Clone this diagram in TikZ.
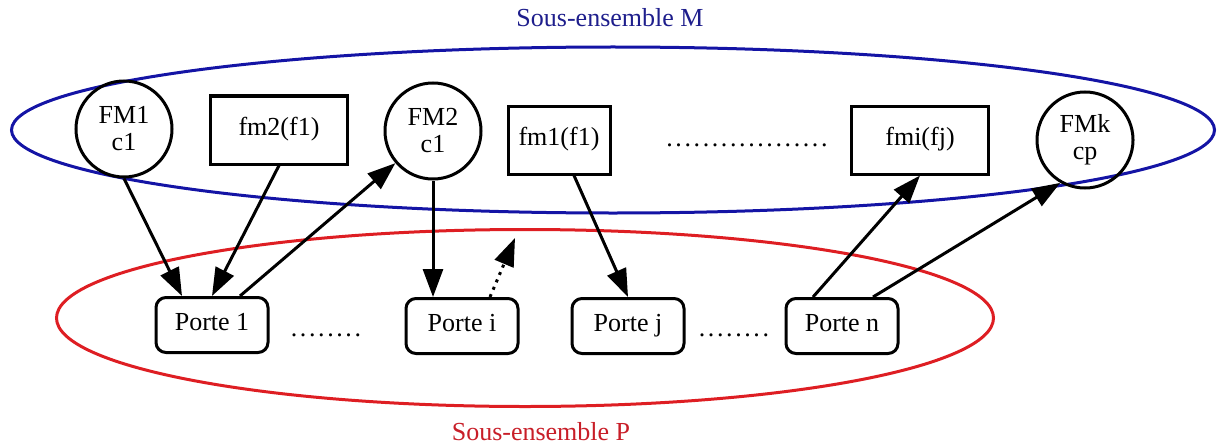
\documentclass[tikz,border=0pt]{standalone}
\usepackage{fontspec}
\setmainfont{Liberation Serif}
\newfontfamily\dotfont[LetterSpace=10]{Liberation Serif}
\usetikzlibrary{arrows.meta,shapes.geometric}
\definecolor{setblue}{RGB}{20,20,165}
\definecolor{setred}{RGB}{222,30,35}
\definecolor{labelblue}{RGB}{30,30,140}
\definecolor{labelred}{RGB}{200,30,40}

\begin{document}
\begin{tikzpicture}[
            x=0.5pt, y=-0.5pt,
            font=\fontsize{13}{13.5}\selectfont,
            every node/.style={line width=1.5pt},
            fmcircle/.style={draw, circle, minimum size=48pt, inner sep=0pt, align=center},
            fmbox/.style={draw, rectangle, minimum height=34pt, inner sep=0pt, text height=1.6ex, text depth=.4ex},
            portebox/.style={draw, rectangle, rounded corners=5pt, minimum width=56pt, minimum height=27.5pt, inner sep=0pt, text height=1.6ex, text depth=.4ex},
            link/.style={line width=1.5pt, -{Triangle[length=14pt,width=10pt]}},
            dotrow/.style={font=\dotfont\fontsize{13}{13.5}\selectfont}
                           ]
            \useasboundingbox (0,0) rectangle (1218,444);

            % 1. The two subsets
            \node[draw=setblue, ellipse, minimum width=601.5pt, minimum height=83pt] (setM) at (613,130) {};
            \node[draw=setred, ellipse, minimum width=468.5pt, minimum height=88.5pt] (setP) at (525,318) {};
            \node[text=labelblue] (labelM) at (610,18) {Sous-ensemble M};
            \node[text=labelred] (labelP) at (541,432) {Sous-ensemble P};

            % 2. Upper row: subset M
            \node[fmcircle] (FMa) at (124,129) {FM1\\c1};
            \node[fmbox, minimum width=68.5pt] (fmb) at (279,130) {fm2(f1)};
            \node[fmcircle] (FMb) at (433,131) {FM2\\c1};
            \node[fmbox, minimum width=51pt] (fmc) at (559,140) {fm1(f1)};
            \node[dotrow] (dotsM) at (747,145) {..................};
            \node[fmbox, minimum width=68.5pt] (fmi) at (920,140) {fmi(fj)};
            \node[fmcircle] (FMk) at (1085,140) {FMk\\cp};

            % 3. Lower row: subset P
            \node[portebox] (porte1) at (212,325) {Porte 1};
            \node[dotrow] (dotsa) at (326,335) {........};
            \node[portebox] (portei) at (462,326) {Porte i};
            \node[portebox] (portej) at (628,326) {Porte j};
            \node[dotrow] (dotsb) at (734,335) {........};
            \node[portebox] (porten) at (842,326) {Porte n};

            % 4. Links between the two rows
            \draw[link] (FMa.south) -- ([xshift=-15pt]porte1.north);
            \draw[link] (fmb.south) -- (porte1.north);
            \draw[link] ([xshift=14pt]porte1.north) -- (FMb);
            \draw[link] (FMb.south) -- ([xshift=-14.5pt]portei.north);
            \coordinate (loose) at (515,238);
            \draw[link, dash pattern=on 1.5pt off 2.5pt] ([xshift=14pt]portei.north) -- (loose);
            \draw[link] ([xshift=7.5pt]fmc.south) -- (portej.north);
            \draw[link] ([xshift=-14.5pt]porten.north) -- (fmi.south);
            \draw[link] ([xshift=15.5pt]porten.north) -- (FMk.-120);

        \end{tikzpicture}
\end{document}
